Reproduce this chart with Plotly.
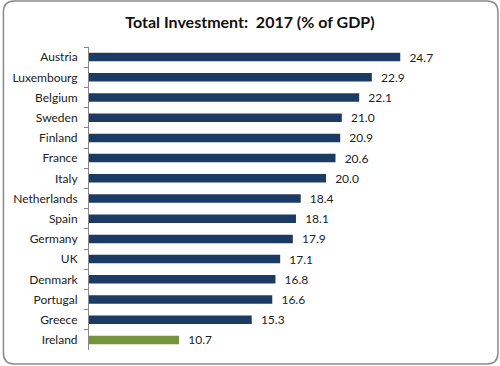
import plotly.graph_objects as go

countries = ["Austria", "Luxembourg", "Belgium", "Sweden", "Finland", "France", "Italy",
             "Netherlands", "Spain", "Germany", "UK", "Denmark", "Portugal", "Greece", "Ireland"]
values = [24.7, 22.9, 22.1, 21.0, 20.9, 20.6, 20.0, 18.4, 18.1, 17.9, 17.1, 16.8, 16.6, 15.3, 10.7]
highlight = "Ireland"

NAVY = "#1b3a64"
GREEN = "#77933c"
colors = [GREEN if c == highlight else NAVY for c in countries]

W, H = 500, 366
L, R, T, B = 87, 16, 47, 16
pw, ph = W - L - R, H - T - B

def px(x):
    return (x - L) / pw

def py(y):
    return (H - B - y) / ph

fig = go.Figure(go.Bar(
    x=values, y=countries, orientation="h",
    marker=dict(color=colors, line=dict(width=0)),
    text=[f"\u00a0\u00a0{v:.1f}" for v in values], textposition="outside",
    constraintext="none",
    textfont=dict(family="Lato, Open Sans, sans-serif", size=12, color="#222"),
    cliponaxis=False, width=0.42,
))

# rounded border
x0, y0, x1, y1, r = 1, 1, 498, 364, 11
path = (f"M {px(x0 + r)},{py(y0)} L {px(x1 - r)},{py(y0)} "
        f"Q {px(x1)},{py(y0)} {px(x1)},{py(y0 + r)} "
        f"L {px(x1)},{py(y1 - r)} Q {px(x1)},{py(y1)} {px(x1 - r)},{py(y1)} "
        f"L {px(x0 + r)},{py(y1)} Q {px(x0)},{py(y1)} {px(x0)},{py(y1 - r)} "
        f"L {px(x0)},{py(y0 + r)} Q {px(x0)},{py(y0)} {px(x0 + r)},{py(y0)} Z")

fig.update_layout(
    width=W, height=H,
    margin=dict(l=L, r=R, t=T, b=B),
    paper_bgcolor="white", plot_bgcolor="white",
    showlegend=False,
    title=dict(text="<b>Total Investment:  2017 (% of GDP)</b>", x=0.5, xref="container",
               xanchor="center", y=1 - 22 / H, yanchor="middle",
               font=dict(family="Lato, Open Sans, sans-serif", size=16, color="#111")),
    xaxis=dict(range=[5, 30], visible=False, showgrid=False, zeroline=False),
    yaxis=dict(categoryorder="array", categoryarray=countries, autorange="reversed",
               showline=True, linecolor="#888", linewidth=1,
               ticks="outside", tickson="boundaries", ticklen=4, tickcolor="#888",
               tickfont=dict(family="Lato, Open Sans, sans-serif", size=12, color="#222"),
               ticklabelstandoff=8, showgrid=False),
    shapes=[dict(type="path", path=path, xref="paper", yref="paper",
                 line=dict(color="#8a8a8a", width=1.5), fillcolor="rgba(0,0,0,0)",
                 layer="above")],
)

fig.write_html("out.html", config={"displayModeBar": False},
               post_script="document.body.style.margin='0';document.body.style.padding='0';")
